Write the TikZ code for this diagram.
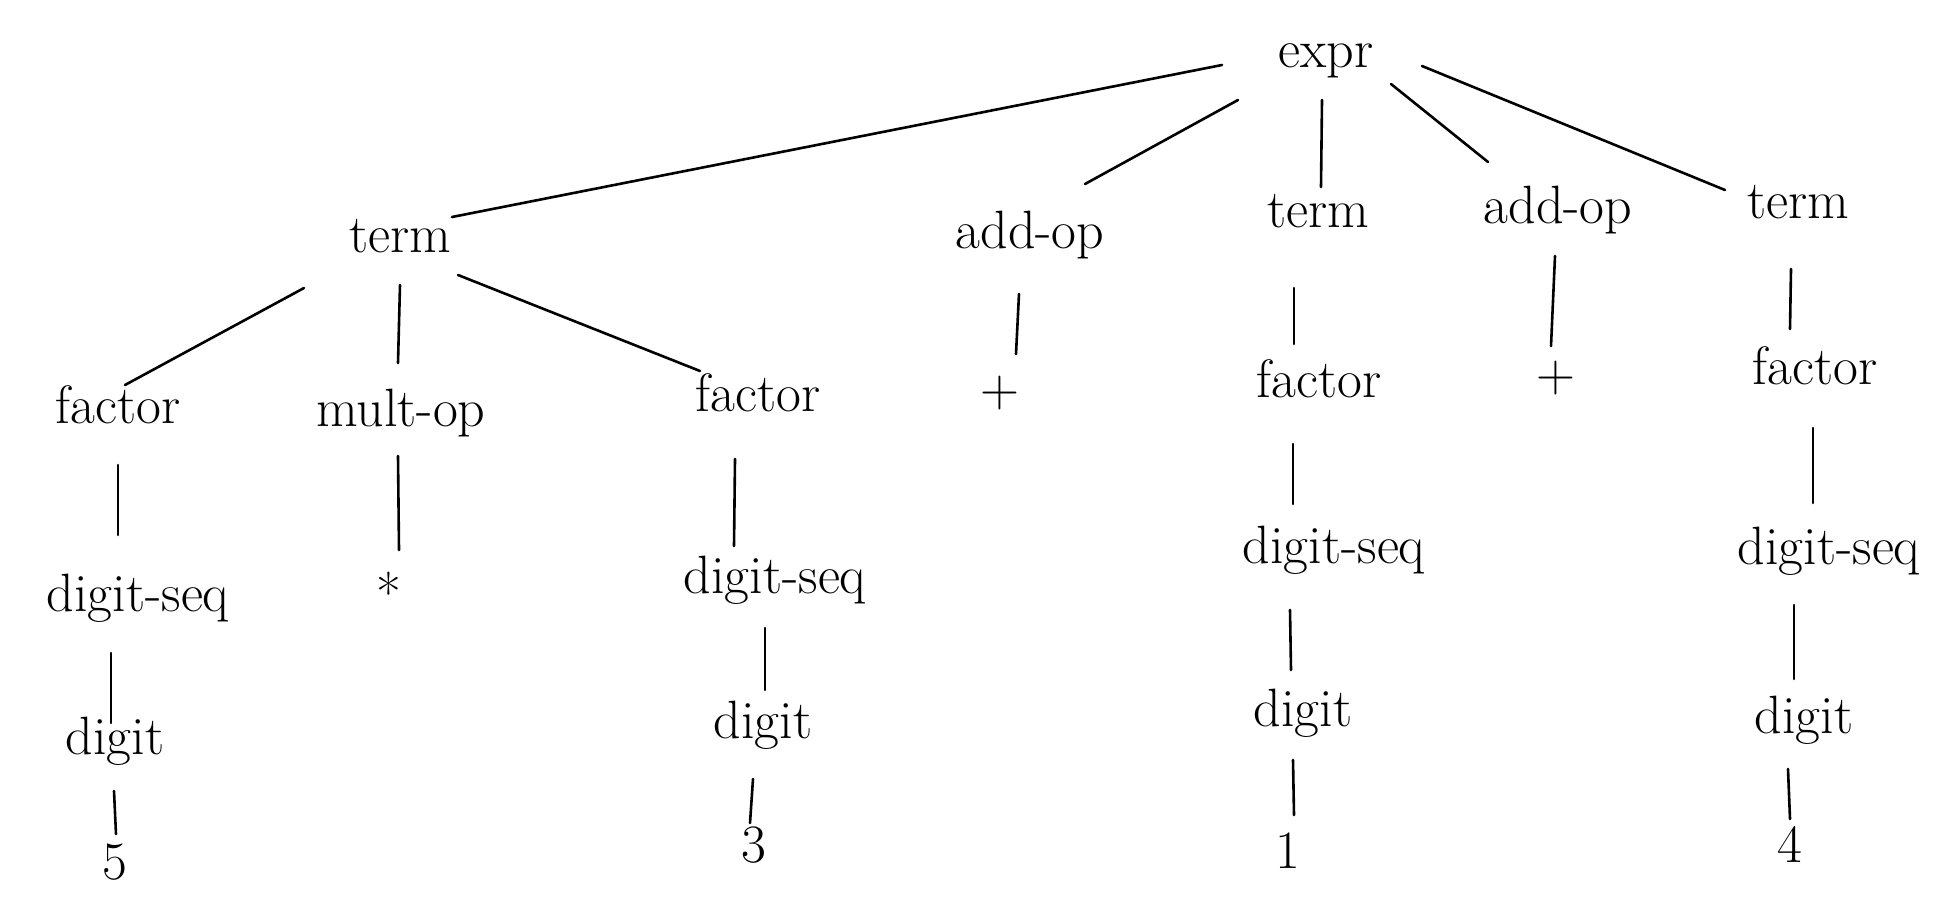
\documentclass[tikz,border=0pt]{standalone}
\usetikzlibrary{calc}
\begin{document}
\begin{tikzpicture}[x=0.5pt,y=-0.5pt,
  lbl/.style={inner sep=0pt,font=\fontsize{27}{30}\selectfont,text height=0.8em,text depth=0em,anchor=center},
  edgeline/.style={line width=1.3pt,line cap=round}]
\useasboundingbox (0,0) rectangle (1960,922);
\newcommand\edge[4]{\draw[edgeline] ($(#1)+(#2)$) -- ($(#3)+(#4)$);}
% level 0
\node[lbl] (expr) at (1326,59) {expr};
% level 1
\node[lbl] (term1) at (400,244) {term};
\node[lbl] (addop1) at (1030,240) {add-op};
\node[lbl] (term2) at (1318,219) {term};
\node[lbl] (addop2) at (1558,215) {add-op};
\node[lbl] (term3) at (1798,210) {term};
% level 2
\node[lbl] (factor1) at (118,415) {factor};
\node[lbl] (mult) at (401,418) {mult-op};
\node[lbl] (factor2) at (758,403) {factor};
\node[lbl] (plus1) at (1000,398) {+};
\node[lbl] (factor3) at (1319,389) {factor};
\node[lbl] (plus2) at (1556,383) {+};
\node[lbl] (factor4) at (1815,376) {factor};
% level 3
\node[lbl] (ds1) at (138,603) {digit-seq};
\node[lbl] (star) at (389,604) {*};
\node[lbl] (ds2) at (775,585) {digit-seq};
\node[lbl] (ds3) at (1334,555) {digit-seq};
\node[lbl] (ds4) at (1829,556) {digit-seq};
% level 4
\node[lbl] (digit1) at (115,746) {digit};
\node[lbl] (digit2) at (763,730) {digit};
\node[lbl] (digit3) at (1303,718) {digit};
\node[lbl] (digit4) at (1804,725) {digit};
% level 5
\node[lbl] (n5) at (115,871) {5};
\node[lbl] (n3) at (754,854) {3};
\node[lbl] (n1) at (1288,860) {1};
\node[lbl] (n4) at (1790,854) {4};
% edges
\edge{expr}{-104,6}{term1}{52,-27}
\edge{expr}{-88,41}{addop1}{55,-56}
\edge{expr}{-4,41}{term2}{3,-32}
\edge{expr}{65,25}{addop2}{-70,-53}
\edge{expr}{96,7}{term3}{-73,-20}
\edge{term1}{-96,44}{factor1}{7,-30}
\edge{term1}{0,41}{mult}{-3,-55}
\edge{term1}{58,31}{factor2}{-58,-32}
\edge{addop1}{-11,54}{plus1}{16,-44}
\edge{term2}{-24,69}{factor3}{-25,-45}
\edge{addop2}{-3,41}{plus2}{-5,-37}
\edge{term3}{-7,59}{factor4}{-25,-47}
\edge{factor1}{0,50}{ds1}{-20,-68}
\edge{mult}{-3,38}{star}{10,-54}
\edge{factor2}{-23,56}{ds2}{-41,-39}
\edge{factor3}{-26,55}{ds3}{-41,-51}
\edge{factor4}{-2,52}{ds4}{-16,-53}
\edge{ds1}{-27,50}{digit1}{-4,-23}
\edge{ds2}{-10,43}{digit2}{2,-40}
\edge{ds3}{-44,55}{digit3}{-12,-48}
\edge{ds4}{-35,49}{digit4}{-10,-46}
\edge{digit1}{-1,45}{n5}{1,-37}
\edge{digit2}{-10,49}{n3}{-4,-31}
\edge{digit3}{-10,42}{n1}{6,-45}
\edge{digit4}{-16,44}{n4}{0,-35}
\end{tikzpicture}
\end{document}
